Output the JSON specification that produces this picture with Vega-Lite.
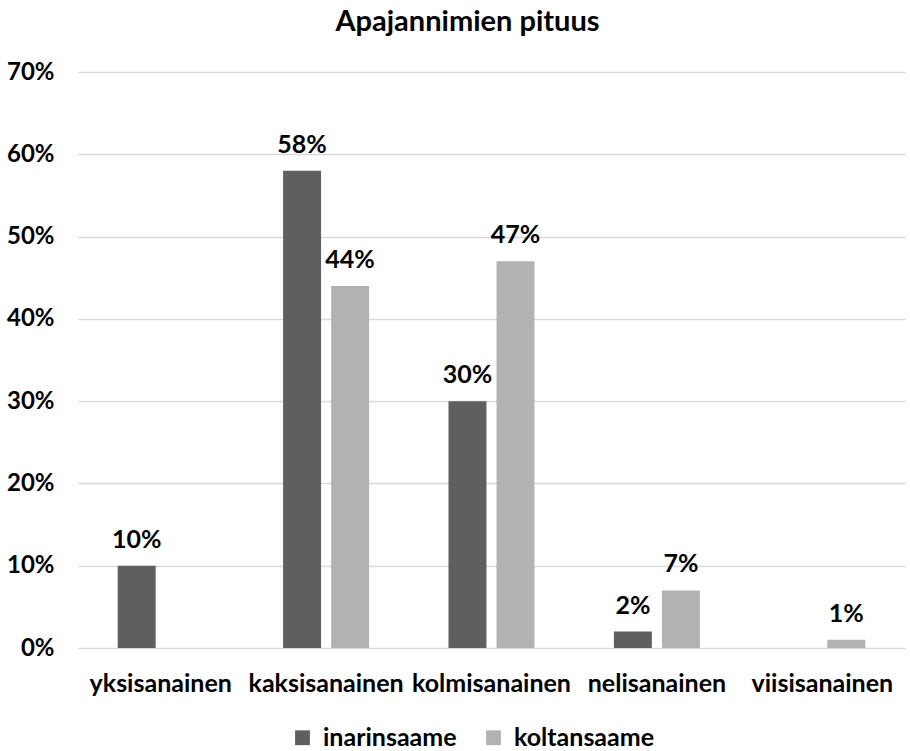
{
  "$schema": "https://vega.github.io/schema/vega-lite/v6.json",
  "width": 827,
  "height": 576,
  "autosize": {"type": "none"},
  "padding": {"left": 78, "top": 72, "right": 5, "bottom": 103},
  "background": "white",
  "config": {
    "font": "Lato",
    "view": {"stroke": null}
  },
  "title": {
    "text": "Apajannimien pituus",
    "fontSize": 29,
    "fontWeight": "bold",
    "color": "#000000",
    "anchor": "middle",
    "frame": "group",
    "dx": -24,
    "offset": 23
  },
  "data": {
    "values": [
      {"category": "yksisanainen", "language": "inarinsaame", "value": 0.10},
      {"category": "kaksisanainen", "language": "inarinsaame", "value": 0.58},
      {"category": "kaksisanainen", "language": "koltansaame", "value": 0.44},
      {"category": "kolmisanainen", "language": "inarinsaame", "value": 0.30},
      {"category": "kolmisanainen", "language": "koltansaame", "value": 0.47},
      {"category": "nelisanainen", "language": "inarinsaame", "value": 0.02},
      {"category": "nelisanainen", "language": "koltansaame", "value": 0.07},
      {"category": "viisisanainen", "language": "koltansaame", "value": 0.01}
    ]
  },
  "encoding": {
    "x": {
      "field": "category",
      "type": "nominal",
      "sort": ["yksisanainen", "kaksisanainen", "kolmisanainen", "nelisanainen", "viisisanainen"],
      "scale": {"paddingInner": 0.48, "paddingOuter": 0.24},
      "axis": {
        "title": null,
        "labelAngle": 0,
        "labelFontSize": 25,
        "labelFontWeight": "bold",
        "labelColor": "#000000",
        "labelPadding": 23,
        "ticks": false,
        "domain": false
      }
    },
    "xOffset": {
      "field": "language",
      "type": "nominal",
      "sort": ["inarinsaame", "koltansaame"],
      "scale": {"domain": ["inarinsaame", "koltansaame"], "paddingInner": 0.21, "paddingOuter": 0}
    },
    "y": {
      "field": "value",
      "type": "quantitative",
      "scale": {"domain": [0, 0.7]},
      "axis": {
        "title": null,
        "format": ".0%",
        "values": [0, 0.1, 0.2, 0.3, 0.4, 0.5, 0.6, 0.7],
        "labelFontSize": 24,
        "labelFontWeight": "bold",
        "labelColor": "#000000",
        "labelPadding": 24,
        "ticks": false,
        "domain": false,
        "grid": true,
        "gridColor": "#d9d9d9",
        "gridWidth": 1.5
      }
    }
  },
  "layer": [
    {
      "mark": {"type": "bar"},
      "encoding": {
        "color": {
          "field": "language",
          "type": "nominal",
          "scale": {"domain": ["inarinsaame", "koltansaame"], "range": ["#5f5f5f", "#b2b2b2"]},
          "legend": {
            "title": null,
            "orient": "none",
            "direction": "horizontal",
            "legendX": 212,
            "legendY": 653,
            "symbolType": "square",
            "symbolSize": 220,
            "symbolStrokeWidth": 0,
            "labelFontSize": 25,
            "labelFontWeight": "bold",
            "labelColor": "#000000",
            "columnPadding": 24,
            "labelOffset": 8
          }
        }
      }
    },
    {
      "mark": {"type": "text", "baseline": "bottom", "dy": -13, "fontSize": 25, "fontWeight": "bold", "color": "#000000"},
      "encoding": {
        "text": {"field": "value", "type": "quantitative", "format": ".0%"}
      }
    }
  ]
}
